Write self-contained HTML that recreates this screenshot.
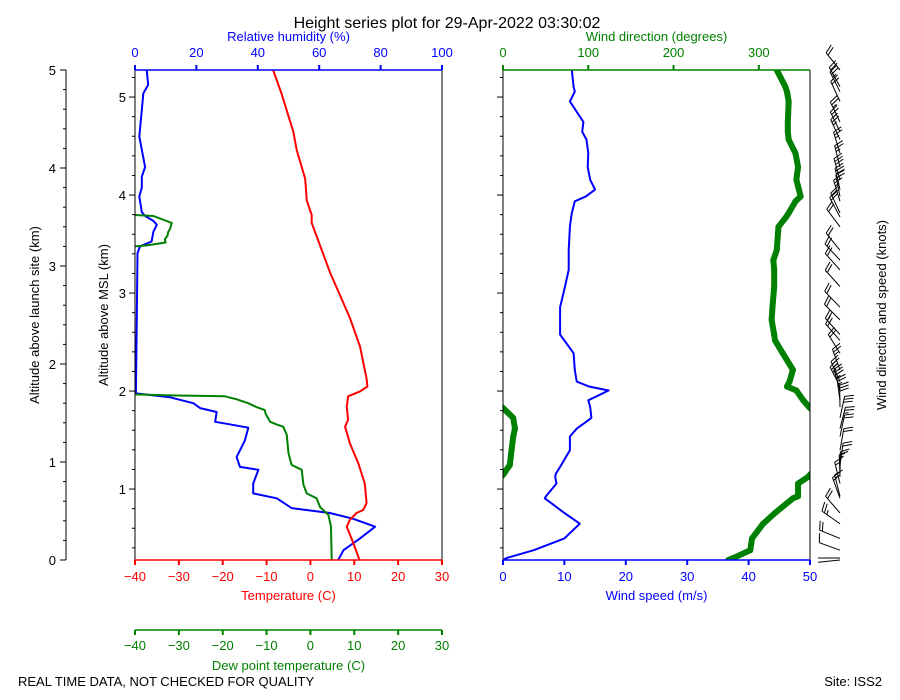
<!DOCTYPE html>
<html><head><meta charset="utf-8"><title>Height series plot</title>
<style>
html,body{margin:0;padding:0;background:#fff;}
svg{display:block;font-family:"Liberation Sans","DejaVu Sans",sans-serif;}
</style></head>
<body>
<svg id="chart" width="900" height="700" viewBox="0 0 900 700" xmlns="http://www.w3.org/2000/svg">
<defs>
<clipPath id="clipL"><rect x="135" y="70" width="307" height="490"/></clipPath>
<clipPath id="clipR"><rect x="503" y="70" width="307" height="490"/></clipPath>
</defs>
<rect width="900" height="700" fill="#fff"/>
<text x="447" y="28" font-size="16" text-anchor="middle">Height series plot for 29-Apr-2022 03:30:02</text>
<text x="18" y="686" font-size="13">REAL TIME DATA, NOT CHECKED FOR QUALITY</text>
<text x="882" y="686" font-size="13" text-anchor="end">Site: ISS2</text>
<g id="g"></g>
</svg>
<script>
// Temperature profile [height km above launch site, T C]
const tempHeights = [5.0,4.76,4.37,4.18,3.89,3.67,3.52,3.44,2.93,2.47,2.18,1.85,1.77,1.72,1.67,1.56,1.43,1.36,1.19,0.99,0.78,0.58,0.51,0.48,0.41,0.34,0.17,0.0];
const tempValues  = [-8.5,-6.6,-3.9,-3.1,-1.2,-0.85,0.3,0.3,4.5,9.0,11.3,12.8,13.0,11.3,8.6,8.3,8.6,7.9,9.0,10.9,12.4,12.8,12.0,10.5,9.0,8.3,9.8,11.2];
// Dew point (values below -40 are off-axis)
const dewHeights = [5.0,3.53,3.52,3.51,3.44,3.38,3.35,3.31,3.27,3.24,3.21,3.20,3.19,1.71,1.69,1.68,1.67,1.64,1.60,1.56,1.53,1.49,1.46,1.41,1.38,1.36,1.28,1.09,0.97,0.92,0.77,0.68,0.63,0.54,0.46,0.34,0.0];
const dewValues  = [-60,-60,-40,-35.8,-31.6,-32.0,-32.4,-32.6,-33.2,-33.0,-37.3,-40,-60,-60,-40,-32,-19.5,-16.8,-14.2,-12.3,-10.4,-10.2,-9.8,-9.2,-7.5,-6.2,-5.4,-5.0,-4.3,-2.0,-1.6,-0.85,1.4,2.2,4.1,4.7,4.85];
// Relative humidity
const rhHeights = [5.0,4.85,4.76,4.59,4.32,4.01,3.91,3.80,3.71,3.55,3.51,3.46,3.42,3.35,3.25,3.20,3.13,2.47,1.70,1.66,1.60,1.55,1.51,1.41,1.39,1.35,1.22,1.05,0.95,0.92,0.78,0.68,0.63,0.53,0.48,0.42,0.34,0.22,0.10,0.0];
const rhValues  = [3.8,4.3,2.7,2.2,1.4,3.3,2.2,2.2,1.4,2.2,3.3,6.0,7.1,6.0,5.4,1.6,0.8,0.6,0.3,11.4,19.0,21.2,26.6,26.1,29.9,36.9,35.8,33.1,34.2,40.2,38.5,38.5,46.2,51.0,63.5,71.1,78.2,73.3,67.9,66.2];
// Wind profile
const windHeights = [5.0,4.83,4.78,4.68,4.47,4.37,4.29,4.15,4.01,3.88,3.78,3.71,3.66,3.54,3.50,3.40,3.16,3.06,2.96,2.79,2.58,2.45,2.30,2.24,2.11,1.94,1.82,1.77,1.73,1.63,1.56,1.45,1.34,1.26,1.12,0.97,0.88,0.85,0.78,0.65,0.63,0.48,0.37,0.22,0.10,0.02,0.0];
const windSpeed = [11.2,11.5,11.7,10.9,13.1,12.9,13.6,13.9,13.8,14.2,15.0,13.5,11.7,11.2,11.1,10.9,10.7,10.7,10.7,10.1,9.3,9.3,9.3,10.0,11.5,11.7,12.0,14.0,17.2,13.9,14.2,14.4,12.0,10.9,10.9,9.5,8.6,8.5,8.7,7.0,6.8,10.0,12.5,10.0,5.0,0.6,0];
const windDir   = [321,331,333,335,334,334,335,343,346,344,347,349,343,335,332,323,321,317,318,318,316,315,318,319,328,340,336,333,344,352,359,12,14,12,10,8,1,358,346,346,340,319,305,292,290,270,264];
const tempTicks = [-40,-30,-20,-10,0,10,20,30];
const rhTicks = [0,20,40,60,80,100];
const wsTicks = [0,10,20,30,40,50];
const wdTicks = [0,100,200,300];
const altTicks = [0,1,2,3,4,5];
const mslTicks = [1,2,3,4,5];

const SITE = 0.276;
const yH = h => 560 - h*98;
const yMSL = m => yH(m - SITE);
const xT = t => 135 + (t+40)*307/70;
const xRH = r => 135 + r*3.07;
const xWS = s => 503 + s*6.14;
const xWD = d => 503 + d*307/360;

const NS = 'http://www.w3.org/2000/svg';
const G = document.getElementById('g');
function mk(tag, attrs, parent){
  const e = document.createElementNS(NS, tag);
  for (const k in attrs) e.setAttribute(k, attrs[k]);
  (parent||G).appendChild(e);
  return e;
}
function txt(x,y,s,opts){
  const e = mk('text',{x:x,y:y,'font-size':opts.size||13,'text-anchor':opts.anchor||'middle',fill:opts.fill||'#000'});
  if (opts.rot) e.setAttribute('transform','rotate(-90 '+x+' '+y+')');
  e.textContent = s;
  return e;
}
function line(x1,y1,x2,y2,c,w){ return mk('line',{x1:x1,y1:y1,x2:x2,y2:y2,stroke:c,'stroke-width':w||1}); }
function poly(xs, ys, c, w, clip){
  const pts = xs.map((x,i)=>x.toFixed(1)+','+ys[i].toFixed(1)).join(' ');
  return mk('polyline',{points:pts,fill:'none',stroke:c,'stroke-width':w,'stroke-linejoin':'round','stroke-linecap':'round','clip-path':'url(#'+clip+')'});
}

// ---- series left panel
let e;
e = poly(rhValues.map(xRH), rhHeights.map(yH), '#0000ff', 2, 'clipL');


e = poly(dewValues.map(xT), dewHeights.map(yH), '#008000', 2, 'clipL');


e = poly(tempValues.map(xT), tempHeights.map(yH), '#ff0000', 2, 'clipL');



// ---- right panel
e = poly(windSpeed.map(xWS), windHeights.map(yH), '#0000ff', 2, 'clipR');


const dirG = mk('g',{'clip-path':'url(#clipR)'});


for (let i=0;i<windDir.length-1;i++){
  let d1 = windDir[i], d2 = windDir[i+1];
  const y1 = yH(windHeights[i]), y2 = yH(windHeights[i+1]);
  const segs = [];
  if (Math.abs(d2-d1) > 180){
    const adj = d2 < d1 ? 360 : -360;
    segs.push([d1, d2+adj]); segs.push([d1-adj, d2]);
  } else segs.push([d1,d2]);
  segs.forEach(s=>{
    mk('line',{x1:xWD(s[0]),y1:y1,x2:xWD(s[1]),y2:y2,stroke:'#008000','stroke-width':6,'stroke-linecap':'round'},dirG);
  });
}

// ---- wind barbs
const barbG = mk('g',{});


for (let i=0;i<windDir.length;i++){
  const bx = 840, by = yH(windHeights[i]);
  const a = windDir[i]*Math.PI/180;
  const ux = Math.sin(a), uy = -Math.cos(a);
  const L = 22;
  const tx = bx+ux*L, ty = by+uy*L;
  const fx = -uy, fy = ux;
  let kt = Math.round(windSpeed[i]*1.94384/5)*5;
  const b = mk('g',{stroke:'#000','stroke-width':1,fill:'none'},barbG);
  
  
  mk('line',{x1:bx,y1:by,x2:tx,y2:ty},b);
  let pos = 0;
  while (kt >= 10){
    const px = tx-ux*pos, py = ty-uy*pos;
    mk('line',{x1:px,y1:py,x2:px+fx*9+ux*3,y2:py+fy*9+uy*3},b);
    kt -= 10; pos += 3;
  }
  if (kt >= 5){
    if (pos===0) pos = 3;
    const px = tx-ux*pos, py = ty-uy*pos;
    mk('line',{x1:px,y1:py,x2:px+fx*4.5+ux*1.5,y2:py+fy*4.5+uy*1.5},b);
  }
}

// ---- frames / spines
line(135,70,135,560,'#000',1);
line(442,70,442,560,'#000',1);
line(135,70,442,70,'#0000ff',1.5);
line(135,560,442,560,'#ff0000',1.5);
line(135,630,442,630,'#008000',1.5);
line(503,70,503,560,'#000',1);
line(810,70,810,560,'#000',1);
line(503,70,810,70,'#008000',1.5);
line(503,560,810,560,'#0000ff',1.5);
line(66,70,66,560,'#000',1);

// ---- tick axes
const tAx = mk('g',{});  
tempTicks.forEach(t=>{ mk('line',{x1:xT(t),y1:560,x2:xT(t),y2:565,stroke:'#ff0000','stroke-width':2},tAx);
  const s = txt(xT(t),581,(t<0?'\u2212'+(-t):''+t),{fill:'#ff0000'}); tAx.appendChild(s);});
txt(288.5,600,'Temperature (C)',{fill:'#ff0000'});

const dAx = mk('g',{});  
tempTicks.forEach(t=>{ mk('line',{x1:xT(t),y1:630,x2:xT(t),y2:635,stroke:'#008000','stroke-width':2},dAx);
  const s = txt(xT(t),650,(t<0?'\u2212'+(-t):''+t),{fill:'#008000'}); dAx.appendChild(s);});
txt(288.5,670,'Dew point temperature (C)',{fill:'#008000'});

const rAx = mk('g',{});  
rhTicks.forEach(r=>{ mk('line',{x1:xRH(r),y1:65,x2:xRH(r),y2:70,stroke:'#0000ff','stroke-width':2},rAx);
  const s = txt(xRH(r),57,''+r,{fill:'#0000ff'}); rAx.appendChild(s);});
txt(288.5,41,'Relative humidity (%)',{fill:'#0000ff'});

const wsAx = mk('g',{});  
wsTicks.forEach(s=>{ mk('line',{x1:xWS(s),y1:560,x2:xWS(s),y2:565,stroke:'#0000ff','stroke-width':2},wsAx);
  const t = txt(xWS(s),581,''+s,{fill:'#0000ff'}); wsAx.appendChild(t);});
txt(656.5,600,'Wind speed (m/s)',{fill:'#0000ff'});

const wdAx = mk('g',{});  
wdTicks.forEach(d=>{ mk('line',{x1:xWD(d),y1:65,x2:xWD(d),y2:70,stroke:'#008000','stroke-width':2},wdAx);
  const t = txt(xWD(d),57,''+d,{fill:'#008000'}); wdAx.appendChild(t);});
txt(656.5,41,'Wind direction (degrees)',{fill:'#008000'});

// launch-site altitude axis
const aAx = mk('g',{});  
for (let k=0;k<=25;k++){ const y = yH(k*0.2); mk('line',{x1:66,y1:y,x2:(k%5===0?60:63),y2:y,stroke:'#000'},aAx); }
altTicks.forEach(h=>{ const t = txt(56,yH(h)+5,''+h,{anchor:'end'}); aAx.appendChild(t); });
txt(39,315,'Altitude above launch site (km)',{rot:true});

// MSL axis (left panel and right panel left edge)
[135,503].forEach((ax,idx)=>{
  const m = mk('g',{});  
  for (let k=2;k<=26;k++){ const mv = k*0.2; const y = yMSL(mv); if (y<70||y>560) continue;
    const major = (k%5===0); mk('line',{x1:ax,y1:y,x2:ax-(major?6:3),y2:y,stroke:'#000'},m); }
  if (idx===0) mslTicks.forEach(v=>{ const t = txt(126,yMSL(v)+5,''+v,{anchor:'end'}); m.appendChild(t); });
});
txt(108,315,'Altitude above MSL (km)',{rot:true});
txt(886,315,'Wind direction and speed (knots)',{rot:true});
</script>
</body></html>
